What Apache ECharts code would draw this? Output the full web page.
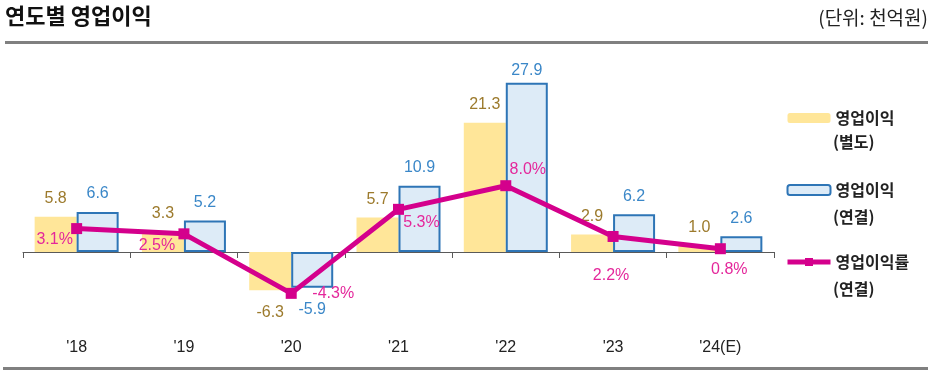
<!DOCTYPE html>
<html>
<head>
<meta charset="utf-8">
<script src="https://cdn.jsdelivr.net/npm/echarts@6/dist/echarts.min.js"></script>
<style>
html,body{margin:0;padding:0;background:#fff;}
#chart{width:931px;height:375px;}
</style>
</head>
<body>
<div id="chart"></div>
<script>
// ---- data ----
var categories = ["'18", "'19", "'20", "'21", "'22", "'23", "'24(E)"];
var opSeparate = [5.8, 3.3, -6.3, 5.7, 21.3, 2.9, 1.0];      // 영업이익(별도)
var opConsolidated = [6.6, 5.2, -5.9, 10.9, 27.9, 6.2, 2.6]; // 영업이익(연결)
var opMargin = [3.1, 2.5, -4.3, 5.3, 8.0, 2.2, 0.8];         // 영업이익률(연결), %
var seriesNames = ['영업이익(별도)', '영업이익(연결)', '영업이익률(연결)'];
var legendFirstLines = ['영업이익', '영업이익', '영업이익률'];
var legendSecondLines = ['(별도)', '(연결)', '(연결)'];

// ---- layout helpers (not data) ----
var marginLabelOffsets = [[-22, 11], [-27, 12], [42, 0], [23, 13], [22, -16], [-2, 39], [9, 21]];
var numFont = 'Liberation Sans, Arial, sans-serif';
var krFont = 'Noto Sans CJK KR, sans-serif';

function barData(vals) {
  return vals.map(function (v) {
    var lab = { position: v < 0 ? 'bottom' : 'top' };
    if (v < 0) lab.distance = 14;
    if (v > 25) lab.distance = 4;
    return { value: v, label: lab };
  });
}
function lineData(vals) {
  return vals.map(function (v, i) {
    return { value: v, label: { offset: marginLabelOffsets[i] } };
  });
}

var chart = echarts.init(document.getElementById('chart'), null, { renderer: 'canvas' });
var option = {
  animation: false,
  backgroundColor: '#ffffff',
  grid: { left: 23, right: 157, top: 69.9, bottom: 62.3, containLabel: false, outerBoundsMode: 'none' },
  xAxis: [
    {
      type: 'category',
      data: categories,
      boundaryGap: true,
      axisLine: { onZero: true, lineStyle: { color: '#595959', width: 1 } },
      axisTick: { show: true, length: 6, alignWithLabel: false, lineStyle: { color: '#595959' } },
      axisLabel: { show: false },
      splitLine: { show: false }
    },
    {
      type: 'category',
      data: categories,
      position: 'bottom',
      boundaryGap: true,
      axisLine: { show: false, onZero: false },
      axisTick: { show: false },
      axisLabel: { margin: 27, color: '#222', fontSize: 16, fontFamily: numFont },
      splitLine: { show: false }
    }
  ],
  yAxis: [
    { type: 'value', min: -10, max: 30, show: false, splitLine: { show: false } },
    { type: 'value', min: -6.51, max: 21.23, show: false, splitLine: { show: false } }
  ],
  legend: {
    orient: 'vertical',
    left: 785,
    top: 109,
    padding: 0,
    itemWidth: 43,
    itemHeight: 10,
    itemGap: 54,
    selectedMode: false,
    data: seriesNames,
    lineStyle: { width: 5 },
    formatter: function (name) { return legendFirstLines[seriesNames.indexOf(name)]; },
    textStyle: { fontSize: 16, fontWeight: 'bold', color: '#222', fontFamily: krFont, lineHeight: 18 }
  },
  graphic: [
    { type: 'text', left: 5, top: 5, style: { text: '연도별 영업이익', font: 'bold 22px "Noto Sans CJK KR"', fill: '#111' } },
    { type: 'text', right: 3, top: 8, style: { text: '(단위: 천억원)', font: '19px "Noto Sans CJK KR"', fill: '#222' } },
    { type: 'rect', left: 5, top: 41, shape: { width: 923, height: 3 }, style: { fill: '#808080' } },
    { type: 'rect', left: 3, top: 367, shape: { width: 925, height: 3 }, style: { fill: '#808080' } },
    { type: 'text', left: 833, top: 134, style: { text: legendSecondLines[0], font: 'bold 16px "Noto Sans CJK KR"', fill: '#222' } },
    { type: 'text', left: 833, top: 209, style: { text: legendSecondLines[1], font: 'bold 16px "Noto Sans CJK KR"', fill: '#222' } },
    { type: 'text', left: 833, top: 281, style: { text: legendSecondLines[2], font: 'bold 16px "Noto Sans CJK KR"', fill: '#222' } }
  ],
  series: [
    {
      name: seriesNames[0],
      type: 'bar',
      data: barData(opSeparate),
      barWidth: 42,
      barGap: '0%',
      itemStyle: { color: '#FFE699' },
      label: { show: true, distance: 10, color: '#9C7A2C', fontSize: 16, fontFamily: numFont,
        formatter: function (p) { return p.value.toFixed(1); } }
    },
    {
      name: seriesNames[1],
      type: 'bar',
      data: barData(opConsolidated),
      barWidth: 42,
      barGap: '0%',
      itemStyle: { color: '#DDEBF7', borderColor: '#2E75B6', borderWidth: 2 },
      label: { show: true, distance: 10, color: '#3A87C8', fontSize: 16, fontFamily: numFont,
        formatter: function (p) { return p.value.toFixed(1); } }
    },
    {
      name: seriesNames[2],
      type: 'line',
      yAxisIndex: 1,
      data: lineData(opMargin),
      symbol: 'rect',
      symbolSize: 11,
      lineStyle: { color: '#D4008C', width: 5 },
      itemStyle: { color: '#D4008C' },
      z: 5,
      label: { show: true, position: 'inside', color: '#E4279B', fontSize: 16, fontFamily: numFont,
        formatter: function (p) { return p.value.toFixed(1) + '%'; } }
    }
  ]
};
chart.setOption(option);
</script>
</body>
</html>
